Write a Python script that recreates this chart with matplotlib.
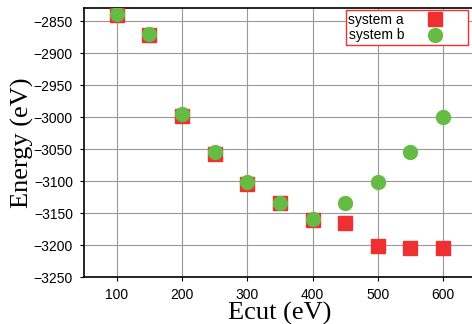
import matplotlib
matplotlib.use("Agg")
import matplotlib.pyplot as plt

# plane-wave cutoff scan
ecut = [100, 150, 200, 250, 300, 350, 400, 450, 500, 550, 600]
energy_a = [-2841, -2872, -2998, -3058, -3105, -3134, -3161, -3165, -3202, -3204, -3205]
energy_b = [-2839, -2870, -2995, -3055, -3102, -3134, -3160, -3134, -3102, -3055, -3000]

fig = plt.figure(figsize=(4.72, 3.24), dpi=100)
ax = fig.add_axes([0.178, 0.145, 0.83, 0.829])

ax.plot(ecut, energy_a, 's', color='#ee3030', markersize=10, label='system a', zorder=3)
ax.plot(ecut, energy_b, 'o', color='#66bb44', markersize=10, label='system b', zorder=4)

ax.set_xlim(50, 650)
ax.set_ylim(-3250, -2830)
ax.set_xticks([100, 200, 300, 400, 500, 600])
ax.set_yticks(range(-3250, -2849, 50))

ax.grid(True, color='#999999', linewidth=0.8)
ax.set_axisbelow(True)
ax.tick_params(labelsize=10, length=3, width=0.8, pad=5)
for lab in ax.get_xticklabels() + ax.get_yticklabels():
    lab.set_family('Liberation Sans')
for s in ax.spines.values():
    s.set_linewidth(1.2)

ax.set_xlabel('Ecut (eV)', family='Liberation Serif', fontsize=19, labelpad=0)
ax.set_ylabel('Energy (eV)', family='Liberation Serif', fontsize=19, labelpad=0)

leg = ax.legend(loc='upper right', markerfirst=False, fancybox=False, framealpha=1,
                prop={'family': 'Liberation Sans', 'size': 10}, borderpad=0.2,
                handlelength=4.3, handletextpad=0.1, labelspacing=0.1,
                borderaxespad=0, bbox_to_anchor=(0.98, 0.993))
leg.get_frame().set_edgecolor('#ee3030')
leg.get_frame().set_linewidth(1.0)

fig.savefig('out.png', dpi=100)
